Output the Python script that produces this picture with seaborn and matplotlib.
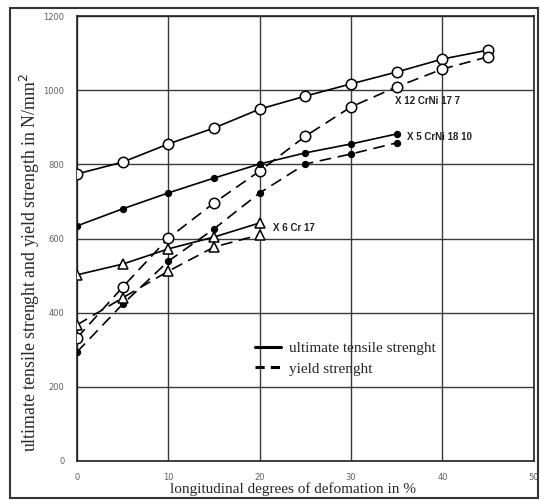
import numpy as np
import pandas as pd
import matplotlib
matplotlib.use('Agg')
import matplotlib.pyplot as plt
from matplotlib.lines import Line2D
from matplotlib.patches import Rectangle
import seaborn as sns

sns.set_style('white')
plt.rcParams['font.family'] = ['DejaVu Sans']

# 数据
deform = [0, 5, 10, 15, 20, 25, 30, 35, 40, 45]
x12_uts = [774, 806, 855, 898, 949, 984, 1017, 1049, 1084, 1108]
x12_ys = [332, 469, 601, 696, 782, 876, 955, 1009, 1057, 1090]
x5_uts = [634, 680, 723, 763, 801, 831, 855, 882]
x5_ys = [294, 423, 539, 626, 723, 801, 828, 858]
x6_uts = [502, 531, 572, 604, 642]
x6_ys = [367, 440, 512, 577, 610]

steel_names = ['X 12 CrNi 17 7', 'X 5 CrNi 18 10', 'X 6 Cr 17']
label_pos = [(34.8, 971), (36.1, 874), (21.5, 628)]

fig = plt.figure(figsize=(5.4, 5.0), dpi=100)
ax = fig.add_axes([0.1426, 0.078, 0.846, 0.89])

open_c = dict(marker='o', markersize=7.5, markerfacecolor='white', markeredgecolor='black', markeredgewidth=1.1)
dot = dict(marker='o', markersize=4.5, markerfacecolor='black', markeredgecolor='black')
tri = dict(marker='^', markersize=7.5, markerfacecolor='white', markeredgecolor='black', markeredgewidth=1.1)

series = [
    (x12_uts, '-', open_c), (x12_ys, '--', open_c),
    (x5_uts, '-', dot), (x5_ys, '--', dot),
    (x6_uts, '-', tri), (x6_ys, '--', tri),
]
for vals, ls, mk in series:
    sns.lineplot(x=deform[:len(vals)], y=vals, ax=ax, color='black', linewidth=1.2,
                 linestyle=ls, zorder=3, **mk)
for line in ax.lines:
    if line.get_linestyle() == '--':
        line.set_dashes([7, 4])

for name, (px, py) in zip(steel_names, label_pos):
    ax.text(px, py, name, fontsize=7, fontweight='bold', color='#222222', va='center',
            family='Liberation Sans')

ax.set_xlim(0, 50)
ax.set_ylim(0, 1200)
ax.set_xticks(range(0, 51, 10))
ax.set_yticks(range(0, 1201, 200))
ax.grid(True, color='#3a3a3a', linewidth=1.0)
ax.tick_params(length=0, labelsize=6, labelcolor='#606060', pad=9)
for s in ax.spines.values():
    s.set_color('#222222')
    s.set_linewidth(1.2)

ax.set_xlabel('longitudinal degrees of defomation in %', family='Liberation Serif', fontsize=11)
ax.set_ylabel('ultimate tensile strenght and yield strength in N/mm$^2$', family='Liberation Serif',
              fontsize=12.8)
ax.xaxis.set_label_coords(0.473, -0.048)
ax.yaxis.set_label_coords(-0.077, 0.447)

handles = [Line2D([], [], color='black', linewidth=2.2, linestyle='-'),
           Line2D([], [], color='black', linewidth=2.2, linestyle=(0, (3, 2)))]
leg = ax.legend(handles, ['ultimate tensile strenght', 'yield strenght'], loc='upper left',
                bbox_to_anchor=(0.36, 0.30), frameon=False, handlelength=1.7,
                handletextpad=0.5, labelspacing=0.45, prop={'family': 'Liberation Serif', 'size': 11})

fig.patches.append(Rectangle((0.0185, 0.004), 0.977, 0.98, transform=fig.transFigure,
                             fill=False, edgecolor='#333333', linewidth=1.5))

plt.savefig('out.png', dpi=100)
